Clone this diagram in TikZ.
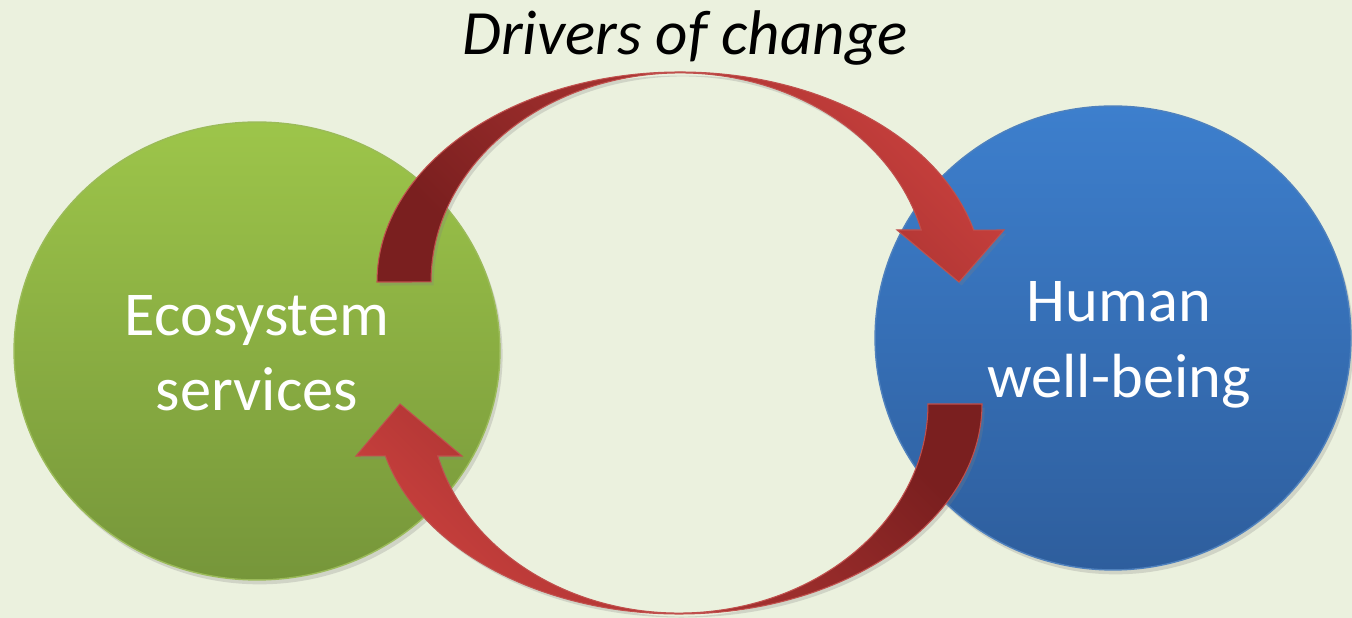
\documentclass[tikz,border=0pt]{standalone}
\usepackage{fontspec}
\setmainfont{Carlito}
\usetikzlibrary{shapes,shadows,calc}
\definecolor{bgcol}{HTML}{EBF1DE}
\definecolor{ecotop}{HTML}{9DC54A}
\definecolor{ecobot}{HTML}{76963A}
\definecolor{ecoline}{HTML}{9BBB59}
\definecolor{humtop}{HTML}{3D7FCD}
\definecolor{humbot}{HTML}{2E5E9D}
\definecolor{humline}{HTML}{4F81BD}
\definecolor{arrlight}{HTML}{CB413E}
\definecolor{arrdark}{HTML}{7A1F1F}
\definecolor{arrline}{HTML}{C0504D}
\tikzstyle{bubble}=[ellipse, inner sep=0pt, outer sep=0pt, line width=0.8pt, drop shadow={opacity=0.25, shadow xshift=1.5pt, shadow yshift=-2.5pt}]
\tikzstyle{bubbletext}=[text=white, align=center]
\tikzstyle{cycarrow}=[draw=arrline, line width=0.6pt, top color=arrlight, bottom color=arrdark, drop shadow={opacity=0.25, shadow xshift=1.5pt, shadow yshift=-2pt}]

\begin{document}
\begin{tikzpicture}[x=0.02cm, y=0.02cm]

\fill[bgcol] (0,0) rectangle (1352,618);
\useasboundingbox (0,0) rectangle (1352,618);

\node[bubble, minimum width=9.72cm, minimum height=9.16cm, draw=ecoline, top color=ecotop, bottom color=ecobot] (eco) at (257,267) {};
\node[bubble, minimum width=9.52cm, minimum height=9.28cm, draw=humline, top color=humtop, bottom color=humbot] (human) at (1113,280) {};

\coordinate (topc) at (680,336);
\coordinate (botc) at (679,214);

% upper arrow, from ecosystem services to human well-being
\path[cycarrow, shading angle=-45] ($(topc)+(-303,0)$) arc[start angle=180, end angle=14.3, x radius=303, y radius=210]
  -- ($(topc)+(324,52)$) -- ($(topc)+(279,0)$) -- ($(topc)+(217,52)$) -- ($(topc)+(241.2,52)$)
  arc[start angle=14.4, end angle=180, x radius=249, y radius=209] -- cycle;

% lower arrow, back to ecosystem services
\path[cycarrow, shading angle=135] ($(botc)+(303,0)$) arc[start angle=0, end angle=-165.7, x radius=303, y radius=210]
  -- ($(botc)+(-323,-52)$) -- ($(botc)+(-279,0)$) -- ($(botc)+(-217,-52)$) -- ($(botc)+(-241.2,-52)$)
  arc[start angle=-165.6, end angle=0, x radius=249, y radius=209] -- cycle;

\node[bubbletext, font=\fontsize{35.5}{42.7}\selectfont] (ecotext) at (257,265) {Ecosystem\\services};
\node[bubbletext, font=\fontsize{35.5}{43.2}\selectfont] (humantext) at (1119,273) {Human\\well-being};

\node[font=\itshape\fontsize{35.9}{43}\selectfont, anchor=base] (drivers) at (685,563) {Drivers of change};

\end{tikzpicture}
\end{document}
